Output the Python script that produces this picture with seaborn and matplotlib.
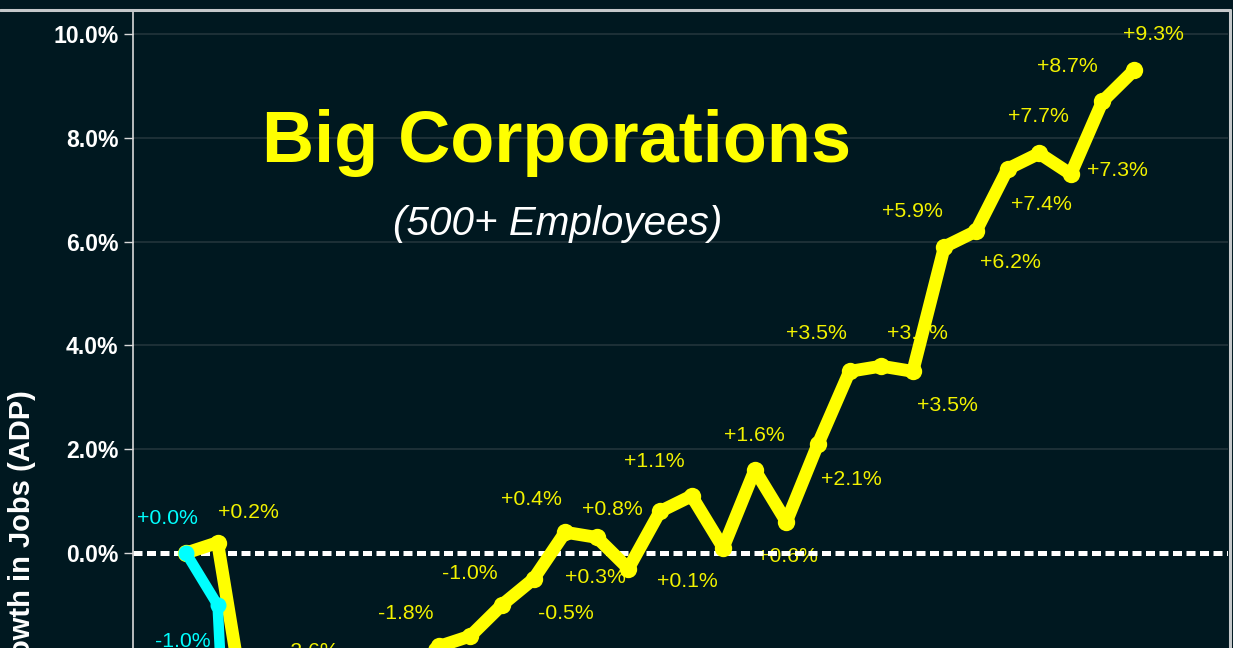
import matplotlib
matplotlib.use("Agg")
import matplotlib.pyplot as plt
from matplotlib import font_manager
from matplotlib.lines import Line2D
from matplotlib.ticker import FixedLocator, FuncFormatter
import pandas as pd
import seaborn as sns

# ---------------- data ----------------
big_values = [0.0, 0.2, -3.5, -3.1, -2.6, -2.9, -2.5, -2.2, -1.8, -1.6, -1.0, -0.5,
              0.4, 0.3, -0.3, 0.8, 1.1, 0.1, 1.6, 0.6, 2.1, 3.5, 3.6, 3.5, 5.9,
              6.2, 7.4, 7.7, 7.3, 8.7, 9.3]
big_labels = ["", "+0.2%", "", "", "-2.6%", "", "", "",
              "-1.8%", "", "-1.0%", "-0.5%", "+0.4%", "+0.3%", "", "+0.8%", "+1.1%",
              "+0.1%", "+1.6%", "+0.6%", "+2.1%", "+3.5%", "+3.6%", "+3.5%", "+5.9%",
              "+6.2%", "+7.4%", "+7.7%", "+7.3%", "+8.7%", "+9.3%"]
other_values = [0.0, -1.0, -13.0]
other_labels = ["+0.0%", "-1.0%", ""]
ytick_values = [-2, 0, 2, 4, 6, 8, 10]
title_text = "Big Corporations"
subtitle_text = "(500+ Employees)"
ylabel_text = "Growth in Jobs (ADP)"

# label placement (pixels: dx right, dy down) -- style only
big_offsets = [(0, 0), (31, -30), (0, 36), (0, 36), (-2, -36), (0, 36), (0, 36), (0, 36),
               (-33, -33), (0, 0), (-32, -31), (32, 35), (-34, -33), (-1, 40), (0, 0),
               (-48, -2), (-37, -34), (-36, 34), (0, -34), (1, 35), (33, 35), (-33, -38),
               (36, -33), (35, 34), (-32, -35), (34, 31), (34, 36), (-1, -37), (47, -4),
               (-35, -35), (19, -36)]
other_offsets = [(-19, -35), (-35, 37), (0, 36)]

# ---------------- style ----------------
BG = "#001820"
YELLOW = "#ffff00"
LABEL_YELLOW = "#f2f200"
CYAN = "#00ffff"
GRID = "#22343b"
FRAME = "#c4c8ca"


def has_font(fam):
    try:
        font_manager.findfont(font_manager.FontProperties(family=fam),
                              fallback_to_default=False)
        return True
    except Exception:
        return False


if has_font("Liberation Sans Narrow"):
    NARROW, NS = "Liberation Sans Narrow", 1.0
else:
    NARROW, NS = "Liberation Sans", 0.83

sns.set_theme(style="dark", rc={
    "figure.facecolor": BG, "axes.facecolor": BG, "savefig.facecolor": BG,
    "axes.edgecolor": "#d8d8d8", "axes.grid": False,
})
plt.rcParams["font.family"] = ["Liberation Sans", "DejaVu Sans"]

W, H = 1233, 648
fig = plt.figure(figsize=(W / 100, H / 100), dpi=100)

# pixel geometry of the plotting area
left_px, right_px, top_px = 133, 1228, 11
zero_px, px_per_unit = 553, 51.9
y_max = (zero_px - top_px) / px_per_unit
y_min = -3.0
bottom_px = zero_px - y_min * px_per_unit
ax = fig.add_axes([left_px / W, (H - bottom_px) / H,
                   (right_px - left_px) / W, (bottom_px - top_px) / H])
ax.set_facecolor(BG)

x_first_px, x_step_px = 186, 31.6
ax.set_xlim((left_px - x_first_px) / x_step_px, (right_px - x_first_px) / x_step_px)
ax.set_ylim(y_min, y_max)

# grid
for v in ytick_values:
    if v != 0:
        ax.axhline(v, color=GRID, lw=1.2, zorder=0.5)
ax.axhline(0, color="white", lw=3.6, dashes=(1.8, 0.9), zorder=2)

df_big = pd.DataFrame({"period": range(len(big_values)), "growth": big_values})
df_other = pd.DataFrame({"period": range(len(other_values)), "growth": other_values})

sns.lineplot(data=df_big, x="period", y="growth", ax=ax, color=YELLOW, linewidth=9.2,
             marker="o", markersize=12.5, markeredgewidth=0, zorder=4,
             solid_joinstyle="round", solid_capstyle="round")
sns.lineplot(data=df_other, x="period", y="growth", ax=ax, color=CYAN, linewidth=7.6,
             marker="o", markersize=11.5, markeredgewidth=0, zorder=5,
             solid_joinstyle="round", solid_capstyle="round")

for i, (v, lab) in enumerate(zip(big_values, big_labels)):
    if lab:
        dx, dy = big_offsets[i]
        ax.annotate(lab, (i, v), xytext=(dx, -dy), textcoords="offset pixels",
                    ha="center", va="center", color=LABEL_YELLOW,
                    fontsize=18.5 * NS, family=NARROW, zorder=1)
for i, (v, lab) in enumerate(zip(other_values, other_labels)):
    if lab:
        dx, dy = other_offsets[i]
        ax.annotate(lab, (i, v), xytext=(dx, -dy), textcoords="offset pixels",
                    ha="center", va="center", color=CYAN,
                    fontsize=18.5 * NS, family=NARROW, zorder=1)

# axes decoration
for s in ["top", "right", "bottom"]:
    ax.spines[s].set_visible(False)
ax.spines["left"].set_color("#d8d8d8")
ax.spines["left"].set_linewidth(1.2)
ax.yaxis.set_major_locator(FixedLocator(ytick_values))
ax.yaxis.set_major_formatter(FuncFormatter(lambda v, p: f"{v:.1f}%"))
ax.tick_params(axis="y", colors="#d8d8d8", length=6.5, width=1.0, direction="out",
               pad=4, labelsize=20 * NS, labelcolor="white", left=True)
for t in ax.get_yticklabels():
    t.set_fontweight("bold")
    t.set_family(NARROW)
ax.set_xticks([])
ax.set_xlabel("")
ax.set_ylabel("")

# titles
fig.text(557 / W, 1 - 162 / H, title_text, ha="center", va="baseline",
         fontsize=62.6 * NS, fontweight="bold", color=YELLOW, family=NARROW)
fig.text(558 / W, 1 - 235 / H, subtitle_text, ha="center", va="baseline",
         fontsize=35 * NS, style="italic", color="white", family=NARROW)
fig.text(22 / W, 1 - 390 / H, ylabel_text, rotation=90, ha="center", va="top",
         fontsize=21, fontweight="bold", color="white", family="Liberation Sans")

# outer frame lines (top and right)
fig.add_artist(Line2D([0, 1230 / W], [1 - 10 / H, 1 - 10 / H], color=FRAME, lw=2.2,
                      transform=fig.transFigure))
fig.add_artist(Line2D([1230 / W, 1230 / W], [0, 1 - 10 / H], color=FRAME, lw=2.2,
                      transform=fig.transFigure))

fig.savefig("out.png", dpi=100, facecolor=BG)
